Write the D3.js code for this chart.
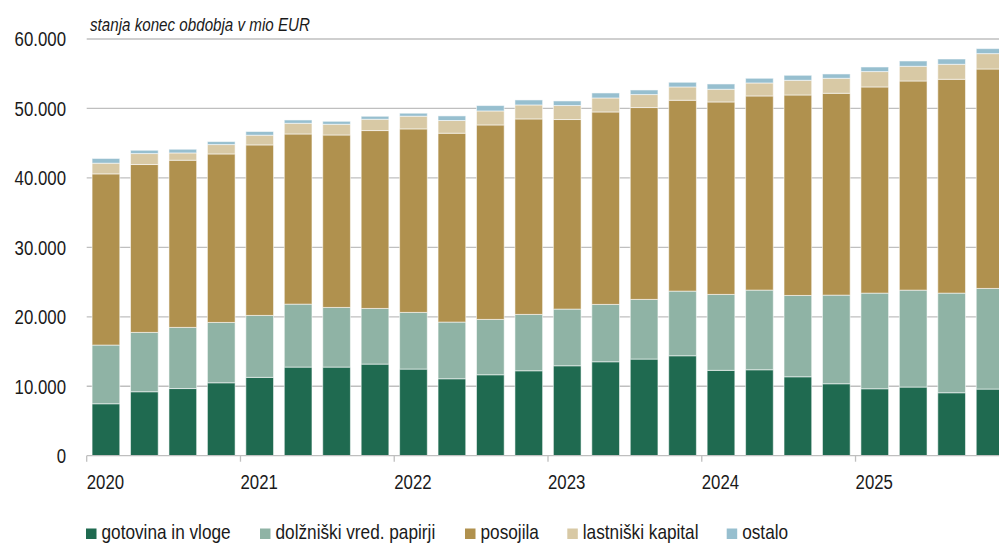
<!DOCTYPE html>
<html lang="sl">
<head>
<meta charset="utf-8">
<script src="https://d3js.org/d3.v7.min.js"></script>
<style>
  body { margin: 0; background: #fff; }
  text { font-family: "Liberation Sans", Arial, sans-serif; fill: #1a1a1a; }
</style>
</head>
<body>
<div id="my_dataviz"></div>

<script>

// quarters 2020Q1 .. 2025Q4
var years = ["2020", "2021", "2022", "2023", "2024", "2025"];
var quarters = [];
years.forEach(function(y) { ["Q1","Q2","Q3","Q4"].forEach(function(q) { quarters.push(y + q); }); });

// series, mio EUR
var gotovina  = [7480, 9210, 9670, 10500, 11280, 12760, 12760, 13190, 12475, 11080, 11655, 12230, 12950, 13525, 13915, 14390, 12290, 12375, 11365, 10360, 9640, 9885, 9065, 9595];
var dolzniski = [8450, 8545, 8805, 8690, 8920, 9065, 8590, 8015, 8160, 8160, 7970, 8115, 8160, 8260, 8590, 9310, 10935, 11470, 11710, 12760, 13770, 13955, 14345, 14490];
var posojila  = [24650, 24170, 24070, 24260, 24550, 24500, 24830, 25610, 26420, 27195, 28000, 28145, 27295, 27710, 27625, 27480, 27710, 27955, 28865, 29065, 29685, 30115, 30790, 31595];
var lastniski = [1540, 1580, 1050, 1350, 1400, 1540, 1540, 1630, 1830, 1830, 2015, 2015, 2015, 2015, 1870, 1915, 1830, 1870, 2115, 2160, 2215, 2115, 2160, 2215];
var ostalo    = [680, 475, 530, 430, 530, 475, 430, 430, 430, 660, 775, 720, 660, 720, 660, 675, 760, 675, 720, 620, 660, 765, 760, 720];

var keys = ["gotovina", "dolzniski", "posojila", "lastniski", "ostalo"];
var names = ["gotovina in vloge", "dolžniški vred. papirji", "posojila", "lastniški kapital", "ostalo"];
var colors = ["#1f6a50", "#8fb3a5", "#b0914e", "#d8c9a5", "#97bfcf"];
var yTicks = [0, 10000, 20000, 30000, 40000, 50000, 60000];

var data = quarters.map(function(q, i) {
  return { q: q, gotovina: gotovina[i], dolzniski: dolzniski[i], posojila: posojila[i], lastniski: lastniski[i], ostalo: ostalo[i] };
});

var svg = d3.select("#my_dataviz")
  .append("svg")
  .attr("width", 999)
  .attr("height", 543);

var x = d3.scaleBand()
  .domain(quarters)
  .range([86.7, 1009.3])
  .paddingInner(0.28)
  .paddingOuter(0.14);

var y = d3.scaleLinear()
  .domain([0, 60000])
  .range([455.7, 39]);

var fmt = function(d) { return d3.format(",")(d).replace(/,/g, "."); };

// the original font is a narrow one, squeeze the regular face
var narrow = function(px, py) { return "translate(" + px + "," + py + ") scale(0.82,1)"; };

// grid lines
svg.append("g")
  .selectAll("line")
  .data(yTicks.slice(1))
  .enter()
  .append("line")
  .attr("x1", 86.7).attr("x2", 999)
  .attr("y1", function(d) { return y(d); })
  .attr("y2", function(d) { return y(d); })
  .attr("stroke", "#bfbfbf")
  .attr("stroke-width", 1.3);

// y labels
svg.append("g")
  .selectAll("text")
  .data(yTicks)
  .enter()
  .append("text")
  .attr("transform", function(d) { return narrow(66, y(d)); })
  .attr("dy", "0.36em")
  .attr("text-anchor", "end")
  .style("font-size", "20.5px")
  .text(fmt);

// stacked bars
var series = d3.stack().keys(keys)(data);

svg.append("g")
  .selectAll("g")
  .data(series)
  .enter()
  .append("g")
  .attr("fill", function(d, i) { return colors[i]; })
  .selectAll("rect")
  .data(function(d) { return d; })
  .enter()
  .append("rect")
  .attr("x", function(d) { return x(d.data.q); })
  .attr("y", function(d) { return y(d[1]); })
  .attr("height", function(d) { return y(d[0]) - y(d[1]); })
  .attr("width", x.bandwidth())
  .attr("stroke", "rgba(255,255,255,0.55)")
  .attr("stroke-width", 1);

// x axis: a tick at the start of every year
var startOff = x.step() * x.paddingOuter();
var xAxis = svg.append("g");
xAxis.append("line")
  .attr("x1", 86.7).attr("x2", 999)
  .attr("y1", y(0)).attr("y2", y(0))
  .attr("stroke", "#bfbfbf")
  .attr("stroke-width", 1.3);
xAxis.selectAll("line.tick")
  .data(years)
  .enter()
  .append("line")
  .attr("class", "tick")
  .attr("x1", function(d) { return x(d + "Q1") - startOff; })
  .attr("x2", function(d) { return x(d + "Q1") - startOff; })
  .attr("y1", y(0)).attr("y2", y(0) + 6)
  .attr("stroke", "#bfbfbf")
  .attr("stroke-width", 1.3);
xAxis.selectAll("text")
  .data(years)
  .enter()
  .append("text")
  .attr("transform", function(d) { return narrow(x(d + "Q1") - startOff, 489.3); })
  .style("font-size", "20.5px")
  .text(function(d) { return d; });

// unit note
svg.append("text")
  .attr("transform", narrow(90, 31))
  .style("font-size", "18.5px")
  .style("font-style", "italic")
  .text("stanja konec obdobja v mio EUR");

// legend
var legX = [86, 260, 465, 567.3, 726.7];
var legend = svg.append("g")
  .selectAll("g")
  .data(names)
  .enter()
  .append("g")
  .attr("transform", function(d, i) { return "translate(" + legX[i] + ",0)"; });
legend.append("rect")
  .attr("x", 0).attr("y", 528.5)
  .attr("width", 10.5).attr("height", 10.5)
  .attr("fill", function(d, i) { return colors[i]; });
legend.append("text")
  .attr("transform", narrow(15.5, 539))
  .style("font-size", "21px")
  .text(function(d) { return d; });

</script>
</body>
</html>
